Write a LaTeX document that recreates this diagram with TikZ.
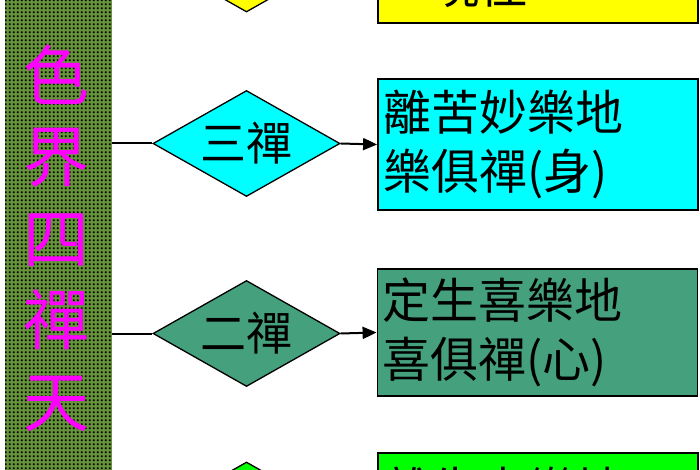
\documentclass[tikz,border=0pt]{standalone}
\usepackage{fontspec}
\newfontfamily\cjk{Noto Sans CJK TC}
\usetikzlibrary{shapes.geometric,patterns,arrows.meta}
\pgfdeclarepatternformonly{olivedots}{\pgfpointorigin}{\pgfpoint{4pt}{4pt}}{\pgfpoint{4pt}{4pt}}{\pgfpathrectangle{\pgfpoint{1pt}{1pt}}{\pgfpoint{2.2pt}{2.2pt}}\pgfusepath{fill}}
\definecolor{olivebase}{HTML}{66943A}
\definecolor{seagrn}{HTML}{45A07E}
\definecolor{brightgrn}{HTML}{00FF00}
\definecolor{cyanfill}{HTML}{00FFFF}
\definecolor{yellowfill}{HTML}{FFFF00}
\definecolor{magentatext}{HTML}{FF00FF}
\tikzset{
  levelbox/.style={draw=black, line width=1.8pt, rectangle, inner xsep=5pt, inner ysep=0pt,
    minimum width=320pt, minimum height=131pt, text width=310pt, align=left,
    font=\cjk\fontsize{48}{59}\selectfont},
  dhyana/.style={draw=black, line width=1.3pt, diamond, aspect=1.76, inner sep=0pt,
    minimum width=187pt, minimum height=106pt, font=\cjk\fontsize{46}{46}\selectfont},
  conn/.style={draw=black, line width=2pt},
  arr/.style={conn, -{Triangle[length=14pt,width=12pt]}},
}
\begin{document}
\begin{tikzpicture}[x=1pt,y=-1pt]
\useasboundingbox (0,0) rectangle (700,470);
\clip (0,0) rectangle (700,470);
\fill[white] (0,0) rectangle (700,470);
% left bar
\node[rectangle, fill=olivebase, minimum width=107pt, minimum height=490pt, inner sep=0pt] (bar) at (58.5,235) {};
\fill[pattern=olivedots, pattern color=black] (5,-10) rectangle (112,480);
\node[font=\cjk\fontsize{66}{81.5}\selectfont, text=magentatext, align=center, inner sep=0pt] (title) at (56,238) {色\\界\\四\\禪\\天};
% rows
\node[dhyana, fill=yellowfill] (d4) at (246.5,-41) {\phantom{四禪}};
\node[levelbox, fill=yellowfill] (b4) at (538,-42.5) {\phantom{國國國國國}\\\phantom{國}現住};
\node[dhyana, fill=cyanfill] (d3) at (246.5,143.5) {三禪};
\node[levelbox, fill=cyanfill] (b3) at (538,144.5) {離苦妙樂地\\樂俱禪(身)};
\node[dhyana, fill=seagrn] (d2) at (246.5,333.5) {二禪};
\node[levelbox, fill=seagrn, minimum height=127pt] (b2) at (537.5,332.5) {定生喜樂地\\喜俱禪(心)};
\node[dhyana, fill=brightgrn] (d1) at (246.5,515) {\phantom{初禪}};
\node[levelbox, fill=brightgrn] (b1) at (538,518.5) {離生喜樂地\\\phantom{國國國國國}};
% connectors
\foreach \i in {1,2,3,4}{
  \draw[conn] (bar.east |- d\i.west) -- (d\i.west);
  \draw[arr] (d\i.east) -- (b\i.west);
}
\end{tikzpicture}
\end{document}
